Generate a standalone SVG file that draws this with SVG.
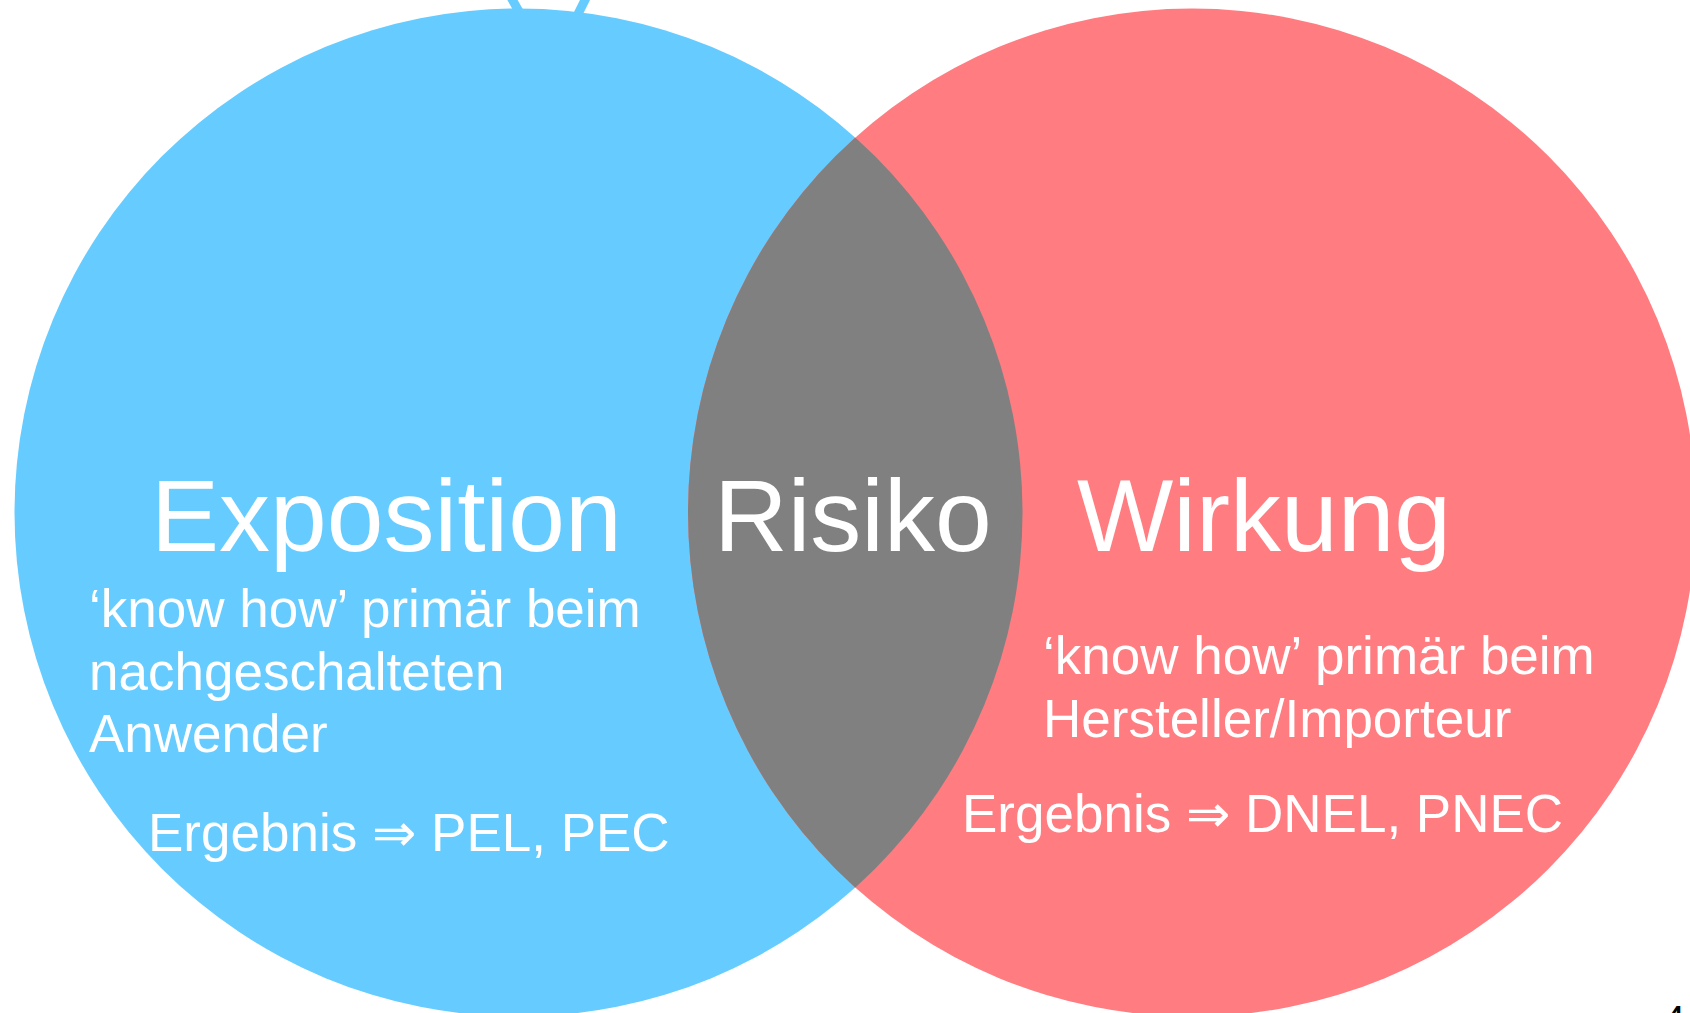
<svg xmlns="http://www.w3.org/2000/svg" width="1690" height="1013" viewBox="0 0 1690 1013">
  <style>
    .t { font-family: "Liberation Sans", Arial, "DejaVu Sans", sans-serif; fill: #FFFFFF; }
    .big { font-size: 102px; }
    .small { font-size: 53px; }
    .num { font-family: "Liberation Sans", Arial, sans-serif; font-size: 40px; fill: #000000; }
  </style>
  <defs>
    <clipPath id="blueClip">
      <circle cx="518.5" cy="512.5" r="504"/>
    </clipPath>
  </defs>
  <rect x="0" y="0" width="1690" height="1013" fill="#FFFFFF"/>
  <g id="connectors">
    <path d="M509.7,-5 L523.7,20 M587.5,-5 L575,20" stroke="#66CCFF" stroke-width="9" fill="none"/>
  </g>
  <g id="exposition">
    <circle cx="518.5" cy="512.5" r="504" fill="#66CCFF"/>
  </g>
  <g id="wirkung">
    <circle cx="1192" cy="512.5" r="504" fill="#FF7C80"/>
  </g>
  <g id="risiko">
    <circle cx="1192" cy="512.5" r="504" fill="#808080" clip-path="url(#blueClip)"/>
  </g>
  <g id="labels">
    <text class="t big" x="151" y="551">Exposition</text>
    <text class="t big" x="714" y="551">Risiko</text>
    <text class="t big" x="1077" y="551">Wirkung</text>
    <text class="t small" x="89" y="627">‘know how’ primär beim</text>
    <text class="t small" x="89" y="690">nachgeschalteten</text>
    <text class="t small" x="89" y="752">Anwender</text>
    <text class="t small" x="148" y="851">Ergebnis ⇒ PEL, PEC</text>
    <text class="t small" x="1043" y="674">‘know how’ primär beim</text>
    <text class="t small" x="1043" y="737">Hersteller/Importeur</text>
    <text class="t small" x="962" y="832">Ergebnis ⇒ DNEL, PNEC</text>
  </g>
  <text class="num" x="1663" y="1034">4</text>
</svg>
